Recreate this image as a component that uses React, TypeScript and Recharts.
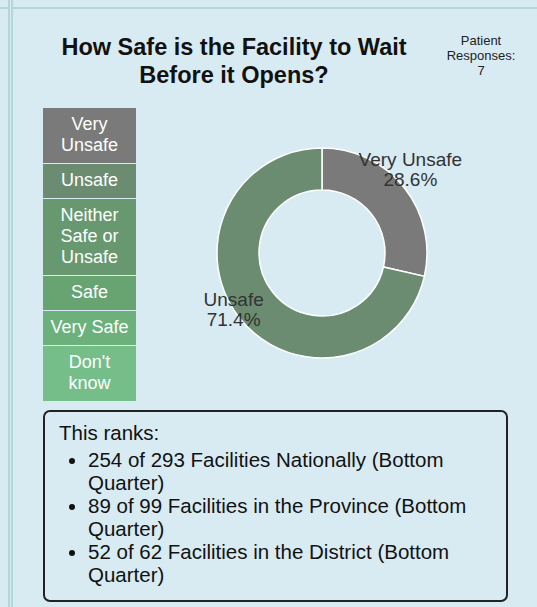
import React from 'react';
import { PieChart, Pie, Cell } from 'recharts';

// answer categories, top to bottom as in the legend
const categories = ['Very Unsafe', 'Unsafe', 'Neither Safe or Unsafe', 'Safe', 'Very Safe', "Don't know"];
const legendLines = [['Very', 'Unsafe'], ['Unsafe'], ['Neither', 'Safe or', 'Unsafe'], ['Safe'], ['Very Safe'], ["Don't", 'know']];
const responseCounts = [2, 5, 0, 0, 0, 0];
const COLORS = ['#7a7a7a', '#6b8c71', '#68986f', '#68a372', '#6cb07b', '#75be8a'];

const rankIntro = 'This ranks:';
const ranks = [
  '254 of 293 Facilities Nationally (Bottom Quarter)',
  '89 of 99 Facilities in the Province (Bottom Quarter)',
  '52 of 62 Facilities in the District (Bottom Quarter)',
];

const FONT = '"Liberation Sans", Arial, sans-serif';
const BG = '#d9ebf2';
const GRID = '#b3d6d9';

const total = responseCounts.reduce((a, b) => a + b, 0);
const pieData = categories
  .map((name, i) => ({ name, value: responseCounts[i], color: COLORS[i] }))
  .filter((d) => d.value > 0);

const RAD = Math.PI / 180;

function renderLabel(props: any) {
  const { cx, cy, midAngle, outerRadius, name, percent } = props;
  const r = outerRadius + 8;
  const x = cx + r * Math.cos(-midAngle * RAD);
  const y = cy + r * Math.sin(-midAngle * RAD) - 14;
  return (
    <text x={x} y={y} fill="#333" fontSize={19} fontFamily={FONT} textAnchor="middle">
      <tspan x={x} dy={-3}>{name}</tspan>
      <tspan x={x} dy={20}>{(percent * 100).toFixed(1) + '%'}</tspan>
    </text>
  );
}

export default function App() {
  return (
    <div style={{ position: 'absolute', left: 0, top: 0, width: 537, height: 607, background: BG, fontFamily: FONT, overflow: 'hidden' }}>
      {/* page grid lines */}
      <div style={{ position: 'absolute', left: 0, top: 7, width: 8, height: 2, background: GRID }} />
      <div style={{ position: 'absolute', left: 13, top: 7, width: 524, height: 2, background: GRID }} />
      <div style={{ position: 'absolute', left: 8, top: 0, width: 2, height: 607, background: GRID }} />
      <div style={{ position: 'absolute', left: 11, top: 0, width: 2, height: 607, background: GRID }} />

      {/* title */}
      <div style={{ position: 'absolute', left: 0, top: 33, width: 468, textAlign: 'center', fontWeight: 'bold', fontSize: 23.5, lineHeight: '28px', color: '#111' }}>
        How Safe is the Facility to Wait<br />Before it Opens?
      </div>
      <div style={{ position: 'absolute', left: 436, top: 33, width: 90, textAlign: 'center', fontSize: 13, lineHeight: '15px', color: '#222' }}>
        Patient<br />Responses:<br />{total}
      </div>

      {/* legend */}
      <div style={{ position: 'absolute', left: 43, top: 108, width: 93 }}>
        {categories.map((c, i) => (
          <div
            key={c}
            style={{
              background: COLORS[i],
              color: '#fff',
              fontSize: 18,
              lineHeight: '21px',
              textAlign: 'center',
              padding: '6px 4px 7px',
              marginBottom: 1,
            }}
          >
            {legendLines[i].map((l, j) => (
              <div key={j}>{l}</div>
            ))}
          </div>
        ))}
      </div>

      {/* donut */}
      <div style={{ position: 'absolute', left: 167, top: 98 }}>
        <PieChart width={310} height={310}>
          <Pie
            data={pieData}
            dataKey="value"
            nameKey="name"
            cx={150}
            cy={150}
            innerRadius={63}
            outerRadius={105}
            startAngle={90}
            endAngle={-270}
            stroke="#fff"
            strokeWidth={1.5}
            label={renderLabel}
            labelLine={false}
            isAnimationActive={false}
          >
            {pieData.map((d) => (
              <Cell key={d.name} fill={d.color} />
            ))}
          </Pie>
        </PieChart>
      </div>

      {/* rank box */}
      <div
        style={{
          position: 'absolute',
          left: 43,
          top: 410,
          width: 465,
          height: 192,
          boxSizing: 'border-box',
          border: '2px solid #222',
          borderRadius: 7,
          padding: '9px 14px',
          fontSize: 20.5,
          lineHeight: '23px',
          color: '#111',
        }}
      >
        <div>{rankIntro}</div>
        <ul style={{ margin: '4px 0 0', paddingLeft: 29, paddingRight: 0 }}>
          {ranks.map((r) => (
            <li key={r}>{r}</li>
          ))}
        </ul>
      </div>
    </div>
  );
}
